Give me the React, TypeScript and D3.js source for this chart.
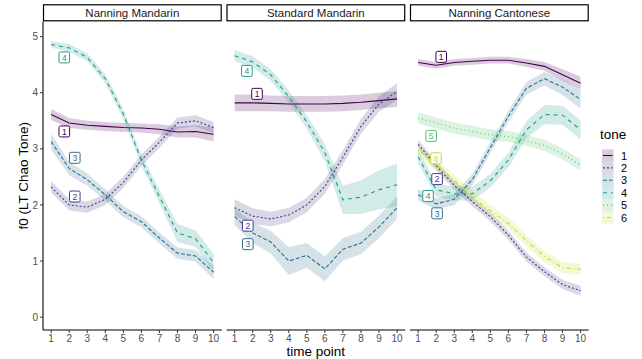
import * as d3 from 'd3'

const timePoints = [1, 2, 3, 4, 5, 6, 7, 8, 9, 10]
const panelNames = ['Nanning Mandarin', 'Standard Mandarin', 'Nanning Cantonese']
const toneLevels = ['1', '2', '3', '4', '5', '6']
const yTicks = [0, 1, 2, 3, 4, 5]

// Nanning Mandarin: mean f0 and half-width of the ribbon
const nmTone1 = [3.61, 3.46, 3.42, 3.4, 3.38, 3.37, 3.35, 3.3, 3.31, 3.26]
const nmTone1Se = [0.1, 0.09, 0.08, 0.08, 0.08, 0.08, 0.09, 0.1, 0.11, 0.13]
const nmTone2 = [2.32, 2.0, 1.96, 2.1, 2.4, 2.8, 3.12, 3.46, 3.5, 3.38]
const nmTone2Se = [0.1, 0.1, 0.1, 0.1, 0.1, 0.1, 0.1, 0.1, 0.1, 0.1]
const nmTone3 = [3.13, 2.65, 2.45, 2.18, 1.88, 1.7, 1.41, 1.14, 1.09, 0.8]
const nmTone3Se = [0.14, 0.12, 0.11, 0.1, 0.1, 0.1, 0.1, 0.1, 0.1, 0.12]
const nmTone4 = [4.86, 4.8, 4.63, 4.25, 3.62, 2.8, 2.15, 1.5, 1.4, 0.97]
const nmTone4Se = [0.06, 0.07, 0.07, 0.08, 0.09, 0.1, 0.12, 0.16, 0.15, 0.16]

// Standard Mandarin
const smTone1 = [3.82, 3.82, 3.81, 3.8, 3.8, 3.8, 3.81, 3.83, 3.86, 3.89]
const smTone1Se = [0.15, 0.15, 0.14, 0.14, 0.14, 0.14, 0.14, 0.14, 0.14, 0.14]
const smTone2 = [1.95, 1.8, 1.75, 1.82, 2.0, 2.33, 2.85, 3.4, 3.8, 4.02]
const smTone2Se = [0.15, 0.14, 0.13, 0.13, 0.13, 0.13, 0.13, 0.13, 0.14, 0.15]
const smTone3 = [1.79, 1.5, 1.34, 1.0, 1.1, 0.86, 1.21, 1.32, 1.61, 1.95]
const smTone3Se = [0.15, 0.18, 0.2, 0.25, 0.22, 0.22, 0.2, 0.2, 0.2, 0.2]
const smTone4 = [4.66, 4.55, 4.32, 3.93, 3.48, 2.93, 2.09, 2.14, 2.27, 2.36]
const smTone4Se = [0.1, 0.1, 0.1, 0.11, 0.12, 0.15, 0.25, 0.3, 0.35, 0.38]

// Nanning Cantonese
const ncTone1 = [4.54, 4.49, 4.54, 4.56, 4.58, 4.58, 4.53, 4.47, 4.32, 4.17]
const ncTone1Se = [0.06, 0.06, 0.06, 0.06, 0.06, 0.06, 0.07, 0.08, 0.1, 0.12]
const ncTone2 = [3.08, 2.7, 2.35, 2.06, 1.79, 1.46, 1.07, 0.81, 0.58, 0.47]
const ncTone2Se = [0.08, 0.08, 0.08, 0.08, 0.08, 0.08, 0.08, 0.08, 0.08, 0.09]
const ncTone3 = [2.18, 2.02, 2.1, 2.45, 3.02, 3.58, 4.08, 4.25, 4.1, 3.88]
const ncTone3Se = [0.1, 0.1, 0.1, 0.1, 0.1, 0.1, 0.11, 0.12, 0.14, 0.16]
const ncTone4 = [2.86, 2.27, 2.2, 2.2, 2.43, 2.8, 3.34, 3.61, 3.6, 3.34]
const ncTone4Se = [0.12, 0.12, 0.12, 0.12, 0.12, 0.13, 0.15, 0.17, 0.17, 0.17]
const ncTone5 = [3.55, 3.46, 3.37, 3.31, 3.25, 3.22, 3.15, 3.06, 2.91, 2.71]
const ncTone5Se = [0.1, 0.1, 0.1, 0.1, 0.1, 0.1, 0.1, 0.1, 0.1, 0.1]
const ncTone6 = [2.98, 2.72, 2.44, 2.15, 1.9, 1.67, 1.36, 1.08, 0.88, 0.85]
const ncTone6Se = [0.1, 0.1, 0.1, 0.1, 0.1, 0.1, 0.1, 0.1, 0.1, 0.1]

// repelled tone labels (time point, f0) per panel
const nmLabelTone = ['4', '1', '3', '2']
const nmLabelX = [1.73, 1.73, 2.31, 2.31]
const nmLabelY = [4.63, 3.31, 2.84, 2.15]
const smLabelTone = ['4', '1', '2', '3']
const smLabelX = [1.68, 2.24, 1.73, 1.73]
const smLabelY = [4.39, 3.98, 1.63, 1.3]
const ncLabelTone = ['1', '5', '6', '2', '4', '3']
const ncLabelX = [2.28, 1.72, 1.99, 2.05, 1.55, 2.05]
const ncLabelY = [4.64, 3.23, 2.83, 2.46, 2.16, 1.85]

const series = [
  { panel: 0, tone: '1', mean: nmTone1, se: nmTone1Se },
  { panel: 0, tone: '2', mean: nmTone2, se: nmTone2Se },
  { panel: 0, tone: '3', mean: nmTone3, se: nmTone3Se },
  { panel: 0, tone: '4', mean: nmTone4, se: nmTone4Se },
  { panel: 1, tone: '1', mean: smTone1, se: smTone1Se },
  { panel: 1, tone: '2', mean: smTone2, se: smTone2Se },
  { panel: 1, tone: '3', mean: smTone3, se: smTone3Se },
  { panel: 1, tone: '4', mean: smTone4, se: smTone4Se },
  { panel: 2, tone: '1', mean: ncTone1, se: ncTone1Se },
  { panel: 2, tone: '2', mean: ncTone2, se: ncTone2Se },
  { panel: 2, tone: '3', mean: ncTone3, se: ncTone3Se },
  { panel: 2, tone: '4', mean: ncTone4, se: ncTone4Se },
  { panel: 2, tone: '5', mean: ncTone5, se: ncTone5Se },
  { panel: 2, tone: '6', mean: ncTone6, se: ncTone6Se },
]

const labels = [
  { tones: nmLabelTone, xs: nmLabelX, ys: nmLabelY },
  { tones: smLabelTone, xs: smLabelX, ys: smLabelY },
  { tones: ncLabelTone, xs: ncLabelX, ys: ncLabelY },
]

const FONT = '"Liberation Sans", Arial, Helvetica, sans-serif'

export default function App() {
  const width = 642
  const height = 359
  const panelLeft = [43, 226.5, 410]
  const panelW = 178.7
  const top = 21.5
  const bottom = 330

  const y = d3.scaleLinear().domain([-0.23, 5.27]).range([bottom, top])
  const xScales = panelLeft.map((l) => d3.scaleLinear().domain([0.55, 10.45]).range([l, l + panelW]))
  const color = d3.scaleOrdinal<string, string>()
    .domain(toneLevels)
    .range(toneLevels.map((_, i) => d3.interpolateViridis(i * 0.18)))
  const dash = d3.scaleOrdinal<string, string>()
    .domain(toneLevels)
    .range(['none', '2,2', '4,2', '4,4', '1,3', '1,3,4,3'])

  const legendX = 602
  const legendTop = 149.3
  const keyH = 12.4

  return (
    <svg width={width} height={height} style={{ position: 'absolute', left: 0, top: 0, background: '#fff' }} fontFamily={FONT}>
      <rect width={width} height={height} fill="#fff" />
      {panelNames.map((name, p) => {
        const x = xScales[p]
        const line = d3.line<number>().x((_, i) => x(timePoints[i])).y((d) => y(d))
        const ps = series.filter((s) => s.panel === p)
        return (
          <g key={name}>
            {/* strip */}
            <rect x={panelLeft[p] + 0.5} y={4.8} width={panelW - 1} height={16} fill="#fff" stroke="#000" strokeWidth={1.2} />
            <text x={panelLeft[p] + panelW / 2} y={17} textAnchor="middle" fontSize={11.5} fill="#1a1a1a">{name}</text>
            {/* ribbons */}
            {ps.map((s) => {
              const area = d3.area<number>()
                .x((_, i) => x(timePoints[i]))
                .y0((d, i) => y(d - s.se[i]))
                .y1((d, i) => y(d + s.se[i]))
              return <path key={'r' + s.tone} d={area(s.mean) ?? ''} fill={color(s.tone)} fillOpacity={0.2} />
            })}
            {/* lines */}
            {ps.map((s) => (
              <path key={'l' + s.tone} d={line(s.mean) ?? ''} fill="none" stroke={color(s.tone)} strokeWidth={1.1}
                strokeDasharray={dash(s.tone)} />
            ))}
            {/* labels */}
            {labels[p].tones.map((t, i) => {
              const cx = x(labels[p].xs[i])
              const cy = y(labels[p].ys[i])
              return (
                <g key={'lab' + t}>
                  <rect x={cx - 5.3} y={cy - 5.5} width={10.6} height={11} rx={1.5} fill="#fff" stroke={color(t)} strokeWidth={1} />
                  <text x={cx} y={cy + 3.2} textAnchor="middle" fontSize={8.5} fill={color(t)}>{t}</text>
                </g>
              )
            })}
            {/* x axis */}
            <line x1={panelLeft[p]} x2={panelLeft[p] + panelW} y1={bottom} y2={bottom} stroke="#000" strokeWidth={1.1} />
            {timePoints.map((t) => (
              <g key={'xt' + t}>
                <line x1={x(t)} x2={x(t)} y1={bottom} y2={bottom + 3} stroke="#333" strokeWidth={1} />
                <text x={x(t)} y={bottom + 11.5} textAnchor="middle" fontSize={10} fill="#4d4d4d">{t}</text>
              </g>
            ))}
          </g>
        )
      })}

      {/* y axis on first panel */}
      <line x1={panelLeft[0]} x2={panelLeft[0]} y1={top} y2={bottom} stroke="#000" strokeWidth={1.1} />
      {yTicks.map((t) => (
        <g key={'yt' + t}>
          <line x1={panelLeft[0] - 3} x2={panelLeft[0]} y1={y(t)} y2={y(t)} stroke="#333" strokeWidth={1} />
          <text x={panelLeft[0] - 5} y={y(t) + 3.6} textAnchor="end" fontSize={10} fill="#4d4d4d">{t}</text>
        </g>
      ))}

      {/* axis titles */}
      <text x={(panelLeft[0] + panelLeft[2] + panelW) / 2} y={356} textAnchor="middle" fontSize={13.5} fill="#000">time point</text>
      <text transform={`translate(28,${(top + bottom) / 2}) rotate(-90)`} textAnchor="middle" fontSize={13.5} fill="#000">f0 (LT Chao Tone)</text>

      {/* legend */}
      <text x={600} y={139} fontSize={13.5} fill="#000">tone</text>
      {toneLevels.map((t, i) => {
        const ky = legendTop + i * keyH
        return (
          <g key={'lg' + t}>
            <rect x={legendX} y={ky} width={11.6} height={keyH} fill={color(t)} fillOpacity={0.2} />
            <line x1={legendX + 1} x2={legendX + 10.6} y1={ky + keyH / 2} y2={ky + keyH / 2} stroke={color(t)} strokeWidth={1.1}
              strokeDasharray={dash(t)} />
            <text x={621} y={ky + keyH / 2 + 4} fontSize={11} fill="#000">{t}</text>
          </g>
        )
      })}
    </svg>
  )
}
